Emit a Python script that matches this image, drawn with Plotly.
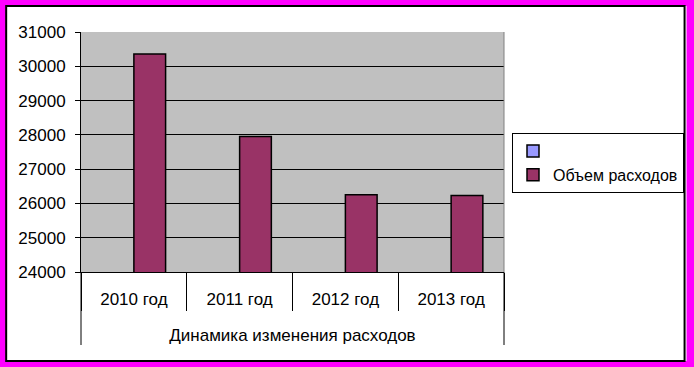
import plotly.graph_objects as go

categories = ["2010 год", "2011 год", "2012 год", "2013 год"]
empty_series = [None, None, None, None]
expenses = [30360, 27950, 26250, 26230]
y_ticks = [24000, 25000, 26000, 27000, 28000, 29000, 30000, 31000]
axis_title = "Динамика изменения расходов"
series_name = "Объем расходов"

W, H = 694, 367
L, R, T, B = 81, 505, 32, 272
pw, ph = R - L, B - T

def px(x):
    return (x - L) / pw

def py(y):
    return (B - y) / ph

font = dict(family="Liberation Sans, Arial, sans-serif", size=17, color="black")
legend_font = dict(family="Liberation Sans, Arial, sans-serif", size=16, color="black")

fig = go.Figure()
fig.add_trace(go.Bar(x=categories, y=empty_series, name=" ",
                     marker=dict(color="#9999FF", line=dict(color="black", width=1.5)),
                     legendgroup="a"))
fig.add_trace(go.Bar(x=categories, y=expenses, name=series_name,
                     marker=dict(color="#993366", line=dict(color="black", width=1.5)),
                     legendgroup="b"))

fig.update_layout(
    width=W, height=H, autosize=False,
    margin=dict(l=L, r=W - R, t=T, b=H - B, pad=0),
    paper_bgcolor="white", plot_bgcolor="#C0C0C0",
    font=font,
    barmode="group", bargap=0.4, bargroupgap=0,
    showlegend=True,
    legend=dict(x=px(684), y=py(133), xanchor="right", yanchor="top",
                bordercolor="black", borderwidth=1, bgcolor="white",
                font=legend_font, traceorder="grouped", tracegroupgap=0),
    xaxis=dict(type="category", showline=True, linecolor="black", linewidth=1,
               ticks="outside", tickson="boundaries", ticklen=38, tickcolor="black",
               tickwidth=1, ticklabelstandoff=12, showgrid=False,
               tickfont=font,
               title=dict(text=axis_title, font=font, standoff=20)),
    yaxis=dict(range=[24000, 31000], tickvals=y_ticks, tickformat="d", showline=True,
               linecolor="black", linewidth=1, ticks="outside", ticklen=5,
               tickcolor="black", showgrid=True, gridcolor="black", gridwidth=1,
               tickfont=font, ticklabelstandoff=6, zeroline=False),
)

# decorative frame and axis edge lines
shapes = [
    dict(type="line", xref="paper", yref="paper", x0=0, x1=0, y0=py(272), y1=py(345),
         line=dict(color="black", width=1)),
    dict(type="line", xref="paper", yref="paper", x0=1, x1=1, y0=py(272), y1=py(345),
         line=dict(color="black", width=1)),
    dict(type="line", xref="paper", yref="paper", x0=1, x1=1, y0=0, y1=1,
         line=dict(color="#808080", width=1)),
    dict(type="rect", xref="paper", yref="paper", x0=px(0), x1=px(W), y0=py(H), y1=py(0),
         line=dict(color="#FF00FF", width=12), fillcolor="rgba(0,0,0,0)"),
    dict(type="rect", xref="paper", yref="paper", x0=px(6), x1=px(686), y0=py(361), y1=py(6),
         line=dict(color="black", width=2), fillcolor="rgba(0,0,0,0)"),
]
fig.update_layout(shapes=shapes)

fig.write_html("out.html", config={"displayModeBar": False},
               post_script="document.body.style.margin='0';")
